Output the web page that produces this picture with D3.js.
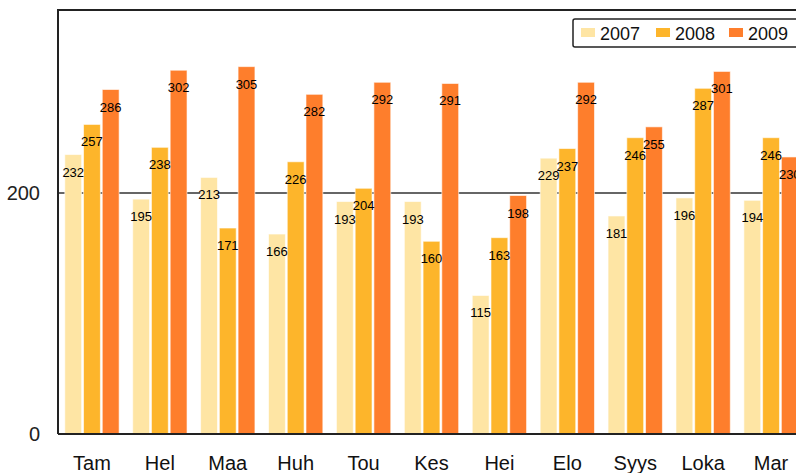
<!DOCTYPE html>
<html>
<head>
<meta charset="utf-8">
<script src="https://cdn.jsdelivr.net/npm/d3@7"></script>
<style>
  body { margin: 0; background: #fff; overflow: hidden; }
  text { font-family: "Liberation Sans", Arial, sans-serif; }
</style>
</head>
<body>
<div id="chart-area"></div>
<script>
// Data
const months = ["Tam", "Hel", "Maa", "Huh", "Tou", "Kes", "Hei", "Elo", "Syys", "Loka", "Mar"];
const years = ["2007", "2008", "2009"];
const values2007 = [232, 195, 213, 166, 193, 193, 115, 229, 181, 196, 194];
const values2008 = [257, 238, 171, 226, 204, 160, 163, 237, 246, 287, 246];
const values2009 = [286, 302, 305, 282, 292, 291, 198, 292, 255, 301, 230];
const yTicks = [0, 200];
const colors = ["#fee5a4", "#fdb52b", "#fe7e2c"];

const series = [values2007, values2008, values2009];

const width = 796, height = 473;
const svg = d3.select("#chart-area").append("svg")
    .attr("width", width).attr("height", height);

// Plot area (right side runs past the window, like the reference)
const plot = { left: 58, top: 10, bottom: 434, right: 805 };

const x0 = d3.scaleBand().domain(months).range([plot.left, plot.right])
    .paddingInner(0.2).paddingOuter(0.1);
const x1 = d3.scaleBand().domain(years).range([0, x0.bandwidth()])
    .paddingInner(0.1);
const y = d3.scaleLinear().domain([0, 352]).range([plot.bottom, plot.top]);
const color = d3.scaleOrdinal().domain(years).range(colors);

// gridline at 200
svg.append("line")
    .attr("x1", plot.left).attr("x2", width)
    .attr("y1", y(200)).attr("y2", y(200))
    .attr("stroke", "#333").attr("stroke-width", 1.5);

// bars
const groups = svg.selectAll("g.month")
    .data(months)
    .join("g")
    .attr("class", "month")
    .attr("transform", d => `translate(${x0(d)},0)`);

const rowData = (m, i) => years.map((yr, j) => ({ year: yr, value: series[j][i] }));

groups.selectAll("rect")
    .data(rowData)
    .join("rect")
    .attr("x", d => x1(d.year))
    .attr("width", x1.bandwidth())
    .attr("y", d => y(d.value))
    .attr("height", d => plot.bottom - y(d.value))
    .attr("fill", d => color(d.year))
    .attr("stroke", "rgba(255,255,255,0.6)")
    .attr("stroke-width", 1);

// value labels
groups.selectAll("text.val")
    .data(rowData)
    .join("text")
    .attr("class", "val")
    .attr("x", d => x1(d.year) + x1.bandwidth() / 2)
    .attr("y", d => y(d.value) + 22)
    .attr("text-anchor", "middle")
    .attr("font-size", 13)
    .attr("fill", "#000")
    .text(d => d.value);

// frame: left and top
svg.append("path")
    .attr("d", `M${plot.left},${plot.bottom}V${plot.top}H${width}`)
    .attr("fill", "none").attr("stroke", "#222").attr("stroke-width", 2);
// bottom axis line
svg.append("line")
    .attr("x1", plot.left).attr("x2", width)
    .attr("y1", plot.bottom).attr("y2", plot.bottom)
    .attr("stroke", "#222").attr("stroke-width", 2);

// y tick labels
svg.selectAll("text.ytick")
    .data(yTicks)
    .join("text")
    .attr("class", "ytick")
    .attr("x", 40)
    .attr("y", d => y(d) + 7)
    .attr("text-anchor", "end")
    .attr("font-size", 20)
    .attr("fill", "#222")
    .text(d => d);

// x labels
svg.selectAll("text.xlab")
    .data(months)
    .join("text")
    .attr("class", "xlab")
    .attr("x", d => x0(d) + x0.bandwidth() / 2)
    .attr("y", 470)
    .attr("text-anchor", "middle")
    .attr("font-size", 20)
    .attr("fill", "#111")
    .text(d => d);

// legend
const legend = svg.append("g").attr("transform", "translate(573,19)");
legend.append("rect")
    .attr("width", 240).attr("height", 28).attr("rx", 2)
    .attr("fill", "#fff").attr("stroke", "#222").attr("stroke-width", 1.5);
const legendX = [8, 83, 156];
const item = legend.selectAll("g.item")
    .data(years)
    .join("g")
    .attr("class", "item")
    .attr("transform", (d, i) => `translate(${legendX[i]},0)`);
item.append("rect")
    .attr("y", 9).attr("width", 14).attr("height", 9)
    .attr("fill", d => color(d));
item.append("text")
    .attr("x", 19).attr("y", 21)
    .attr("font-size", 18)
    .attr("fill", "#111")
    .text(d => d);
</script>
</body>
</html>
